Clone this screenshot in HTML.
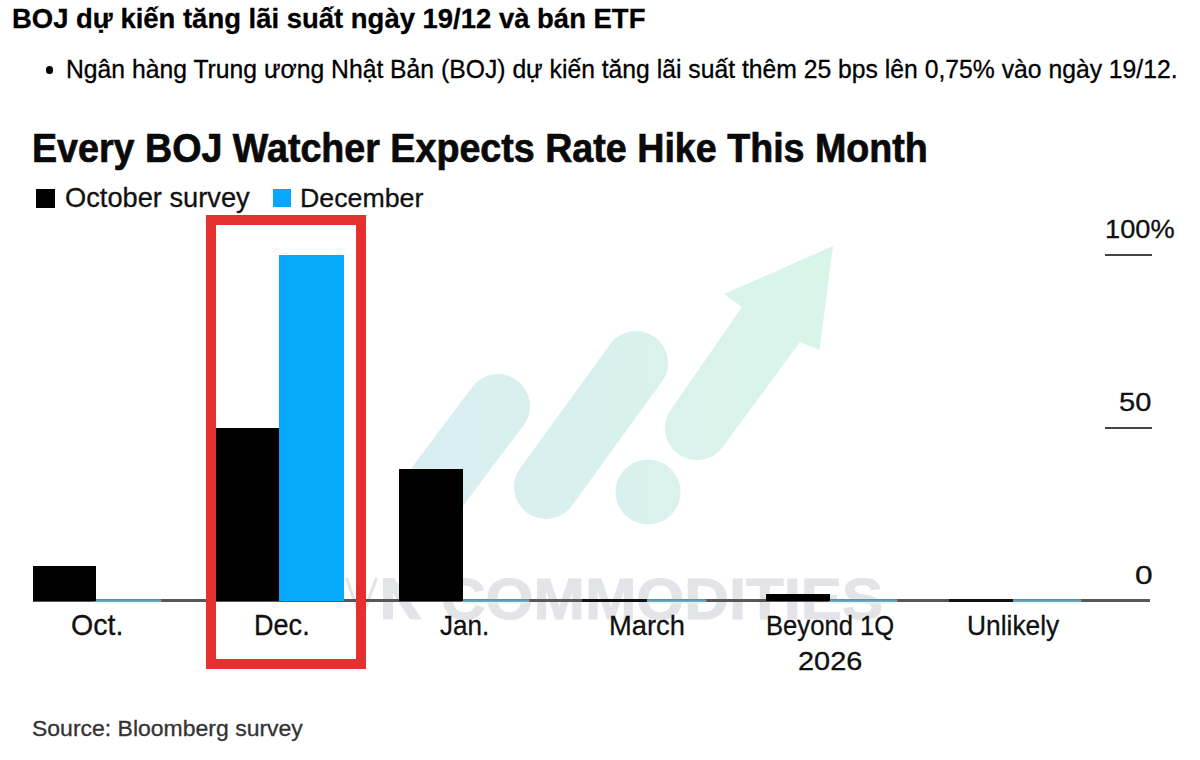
<!DOCTYPE html>
<html>
<head>
<meta charset="utf-8">
<style>
html,body{margin:0;padding:0;background:#fff;}
body{width:1200px;height:760px;position:relative;overflow:hidden;font-family:"Liberation Sans",sans-serif;color:#000;}
.t{position:absolute;white-space:nowrap;line-height:1;transform-origin:0 0;}
.b{position:absolute;}
</style>
</head>
<body>
<div class="t" style="left:11.60px;top:4.55px;font-size:28.11px;font-weight:bold;color:#000;transform:scaleX(0.9770);-webkit-text-stroke:0.3px #000;">BOJ dự kiến tăng lãi suất ngày 19/12 và bán ETF</div>
<div class="b" style="left:45.6px;top:66.2px;width:7.6px;height:7.6px;border-radius:50%;background:#000;"></div>
<div class="t" style="left:65.75px;top:56.75px;font-size:25.44px;font-weight:normal;color:#000;transform:scaleX(0.9718);-webkit-text-stroke:0.3px #000;">Ngân hàng Trung ương Nhật Bản (BOJ) dự kiến tăng lãi suất thêm 25 bps lên 0,75% vào ngày 19/12.</div>

<svg class="b" style="left:0;top:0" width="1200" height="760" viewBox="0 0 1200 760">
  <defs>
    <linearGradient id="g" x1="420" y1="0" x2="840" y2="0" gradientUnits="userSpaceOnUse">
      <stop offset="0" stop-color="#d9eef1"/>
      <stop offset="1" stop-color="#d9f5e9"/>
    </linearGradient>
  </defs>
  <g fill="url(#g)" stroke="none">
    <line x1="432" y1="494" x2="498" y2="406" stroke="url(#g)" stroke-width="64" stroke-linecap="round"/>
    <line x1="546" y1="487" x2="636" y2="363" stroke="url(#g)" stroke-width="64" stroke-linecap="round"/>
    <circle cx="648" cy="492" r="32.5"/>
    <path d="M671.3 408.9 L742 307 L724 294 L833 246 L819.5 350 L800 342 L722.7 447.1 A32 32 0 0 1 671.3 408.9 Z"/>
  </g>
</svg>
<svg class="b" style="left:0;top:0" width="1200" height="760" viewBox="0 0 1200 760">
  <polyline points="346.5,578 361,620 376.5,578" fill="none" stroke="#e3e4e8" stroke-width="3"/>
  <rect x="383" y="578" width="10" height="41.5" fill="#e3e4e8"/>
  <polygon points="383,578 394,578 422,619.5 410,619.5" fill="#e3e4e8"/>
</svg>
<div class="t" style="left:441.25px;top:571.62px;font-size:56.70px;font-weight:bold;color:#dcdde1;transform:scaleX(1.0884);-webkit-text-stroke:1px #e3e4e8;color:#e3e4e8;">COMMODITIES</div>

<div class="t" style="left:32.07px;top:128.12px;font-size:40.11px;font-weight:bold;color:#0a0a0a;transform:scaleX(0.9383);-webkit-text-stroke:0.7px #0a0a0a;">Every BOJ Watcher Expects Rate Hike This Month</div>
<div class="b" style="left:36.4px;top:189px;width:19px;height:18.5px;background:#000;"></div>
<div class="t" style="left:64.63px;top:183.70px;font-size:27.35px;font-weight:normal;color:#111;transform:scaleX(0.9963);-webkit-text-stroke:0.3px #111;">October survey</div>
<div class="b" style="left:273px;top:189.4px;width:18.4px;height:18px;background:#05a8fb;"></div>
<div class="t" style="left:300.25px;top:184.63px;font-size:26.37px;font-weight:normal;color:#111;transform:scaleX(1.0147);-webkit-text-stroke:0.3px #111;">December</div>

<div class="t" style="left:1105.00px;top:215.74px;font-size:26.19px;font-weight:normal;color:#111;transform:scaleX(1.0388);-webkit-text-stroke:0.3px #111;">100%</div>
<div class="b" style="left:1105px;top:254.2px;width:46.7px;height:2px;background:#444;"></div>
<div class="t" style="left:1119.12px;top:390.00px;font-size:25.94px;font-weight:normal;color:#111;transform:scaleX(1.1194);-webkit-text-stroke:0.3px #111;">50</div>
<div class="b" style="left:1105px;top:427.1px;width:46.7px;height:2px;background:#444;"></div>
<div class="t" style="left:1134.75px;top:561.73px;font-size:26.62px;font-weight:normal;color:#111;transform:scaleX(1.1923);-webkit-text-stroke:0.3px #111;">0</div>

<div class="b" style="left:33px;top:599.4px;width:1117px;height:2.2px;background:#575757;"></div>
<div class="b" style="left:96px;top:599px;width:64px;height:3.2px;background:linear-gradient(#5a879f,#76b0cc);box-shadow:0 1px 2px 0.5px #e2f6fb;"></div>
<div class="b" style="left:463px;top:599px;width:65px;height:3.2px;background:linear-gradient(#5a879f,#76b0cc);box-shadow:0 1px 2px 0.5px #e2f6fb;"></div>
<div class="b" style="left:646.7px;top:599px;width:58px;height:3.2px;background:linear-gradient(#5a879f,#76b0cc);box-shadow:0 1px 2px 0.5px #e2f6fb;"></div>
<div class="b" style="left:829.6px;top:599px;width:66px;height:3.2px;background:linear-gradient(#5a879f,#76b0cc);box-shadow:0 1px 2px 0.5px #e2f6fb;"></div>
<div class="b" style="left:1013px;top:599px;width:67px;height:3.2px;background:linear-gradient(#5a879f,#76b0cc);box-shadow:0 1px 2px 0.5px #e2f6fb;"></div>

<div class="b" style="left:33px;top:566.4px;width:63px;height:34.6px;background:#000;"></div>
<div class="b" style="left:216px;top:427.5px;width:63.5px;height:173.5px;background:#000;"></div>
<div class="b" style="left:279px;top:254.7px;width:65px;height:346.3px;background:#05a8fb;"></div>
<div class="b" style="left:399.3px;top:469.3px;width:63.7px;height:131.7px;background:#000;"></div>
<div class="b" style="left:582px;top:599px;width:64.7px;height:3px;background:#111;"></div>
<div class="b" style="left:766px;top:593.7px;width:63.6px;height:7.3px;background:#000;"></div>
<div class="b" style="left:949px;top:599px;width:64px;height:3px;background:#111;"></div>

<div class="t" style="left:71.25px;top:611.35px;font-size:28.84px;font-weight:normal;color:#111;transform:scaleX(0.9902);-webkit-text-stroke:0.3px #111;">Oct.</div>
<div class="t" style="left:253.50px;top:610.75px;font-size:29.05px;font-weight:normal;color:#111;transform:scaleX(0.9318);-webkit-text-stroke:0.3px #111;">Dec.</div>
<div class="t" style="left:440.25px;top:610.64px;font-size:28.24px;font-weight:normal;color:#111;transform:scaleX(0.9216);-webkit-text-stroke:0.3px #111;">Jan.</div>
<div class="t" style="left:608.75px;top:611.28px;font-size:28.55px;font-weight:normal;color:#111;transform:scaleX(0.9573);-webkit-text-stroke:0.3px #111;">March</div>
<div class="t" style="left:766.00px;top:610.50px;font-size:28.31px;font-weight:normal;color:#111;transform:scaleX(0.9053);-webkit-text-stroke:0.3px #111;">Beyond 1Q</div>
<div class="t" style="left:797.62px;top:647.70px;font-size:26.25px;font-weight:normal;color:#111;transform:scaleX(1.1007);-webkit-text-stroke:0.3px #111;">2026</div>
<div class="t" style="left:966.50px;top:611.57px;font-size:27.95px;font-weight:normal;color:#111;transform:scaleX(0.9435);-webkit-text-stroke:0.3px #111;">Unlikely</div>

<div class="b" style="left:206px;top:215px;width:140px;height:433.5px;border:10px solid #e4302e;"></div>

<div class="t" style="left:31.50px;top:717.53px;font-size:22.35px;font-weight:normal;color:#333;transform:scaleX(1.0288);-webkit-text-stroke:0.3px #333;">Source: Bloomberg survey</div>
</body>
</html>
